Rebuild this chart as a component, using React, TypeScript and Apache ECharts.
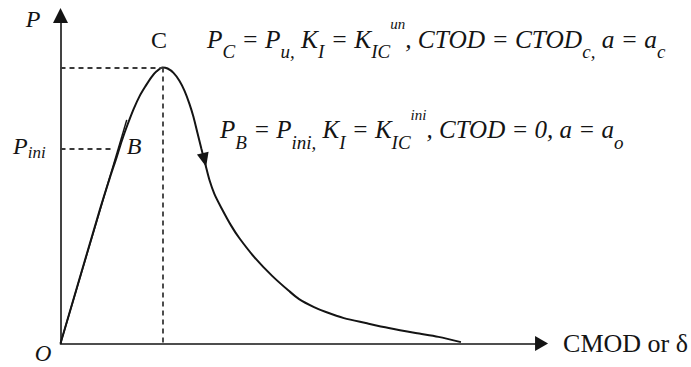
import React, { useEffect, useRef } from 'react';
import * as echarts from 'echarts';

// Normalised schematic data: x = CMOD / CMOD_c, y = P / P_u
const cmod = [0, 0.385, 0.483, 0.551, 0.600, 0.659, 0.717, 0.776, 0.834, 0.893, 0.941, 1.0, 1.049, 1.107, 1.166, 1.215, 1.263, 1.302, 1.341, 1.380, 1.420, 1.459, 1.507, 1.576, 1.673, 1.751, 1.898, 2.073, 2.239, 2.337, 2.483, 2.600, 2.776, 2.990, 3.215, 3.478, 3.702, 3.922];
const load = [0, 0.484, 0.600, 0.676, 0.734, 0.795, 0.850, 0.897, 0.933, 0.966, 0.986, 1.0, 0.996, 0.980, 0.951, 0.915, 0.868, 0.821, 0.763, 0.705, 0.647, 0.592, 0.542, 0.491, 0.426, 0.382, 0.313, 0.245, 0.190, 0.161, 0.132, 0.114, 0.092, 0.074, 0.056, 0.038, 0.024, 0.005];
const tangentX = [0, 0.649];
const tangentY = [0, 0.810];
const peakX = 1.0; // CMOD_c
const peakY = 1.0; // P_u
const pIni = 0.705;
const iniDashEnd = 0.512;
const arrowPoint = [1.41, 0.665];
const xMax = 4.712;
const yMax = 1.188;

const eq1 = '{m|P}{s|C}{m| = P}{s|u,}{m| K}{s|I}{m| = K}{s|IC}{u|un}{m|, CTOD = CTOD}{s|c,}{m| a = a}{s|c}';
const eq2 = '{m|P}{s|B}{m| = P}{s|ini,}{m| K}{s|I}{m| = K}{s|IC}{u|ini}{m|, CTOD = 0, a = a}{s|o}';
const pIniLabel = '{m|P}{s|ini}';

const SERIF = "'Liberation Serif', 'Times New Roman', serif";
const INK = '#141414';

export default function App() {
  const ref = useRef<HTMLDivElement>(null);
  useEffect(() => {
    if (!ref.current) return;
    const chart = echarts.init(ref.current, undefined, { renderer: 'svg' });
    const eqRich1 = {
      m: { fontSize: 25.4, fontStyle: 'italic', fontFamily: 'Liberation Serif', fill: INK, lineHeight: 44, verticalAlign: 'middle' },
      s: { fontSize: 19, fontStyle: 'italic', fontFamily: 'Liberation Serif', fill: INK, lineHeight: 12, verticalAlign: 'bottom' },
      u: { fontSize: 15, fontStyle: 'italic', fontFamily: 'Liberation Serif', fill: INK, lineHeight: 31, verticalAlign: 'top' },
    };
    const eqRich2 = {
      m: { fontSize: 25, fontStyle: 'italic', fontFamily: 'Liberation Serif', fill: INK, lineHeight: 44, verticalAlign: 'middle' },
      s: { fontSize: 19, fontStyle: 'italic', fontFamily: 'Liberation Serif', fill: INK, lineHeight: 12, verticalAlign: 'bottom' },
      u: { fontSize: 15, fontStyle: 'italic', fontFamily: 'Liberation Serif', fill: INK, lineHeight: 29, verticalAlign: 'top' },
    };
    const iniRich = {
      m: { fontSize: 24, fontStyle: 'italic', fontFamily: 'Liberation Serif', fill: INK, lineHeight: 30, verticalAlign: 'middle' },
      s: { fontSize: 17, fontStyle: 'italic', fontFamily: 'Liberation Serif', fill: INK, lineHeight: 13, verticalAlign: 'bottom' },
    };
    const dash = { type: [5, 4] as any, color: '#3a3a3a', width: 1.8 };
    chart.setOption({
      animation: false,
      backgroundColor: '#ffffff',
      grid: { left: 60.5, right: 147.5, top: 15.5, bottom: 23.5 },
      xAxis: {
        type: 'value', min: 0, max: xMax,
        name: 'CMOD or δ', nameLocation: 'end', nameGap: 21.5,
        nameTextStyle: { fontFamily: SERIF, fontSize: 26, color: INK },
        axisLine: { onZero: false, symbol: ['none', 'triangle'], symbolSize: [15, 13], lineStyle: { color: INK, width: 1.6 } },
        axisTick: { show: false }, axisLabel: { show: false }, splitLine: { show: false },
      },
      yAxis: {
        type: 'value', min: 0, max: yMax,
        axisLine: { onZero: false, symbol: ['none', 'triangle'], symbolSize: [15, 15], lineStyle: { color: INK, width: 1.6 } },
        axisTick: { show: false }, axisLabel: { show: false }, splitLine: { show: false },
      },
      series: [
        {
          type: 'line', name: 'tangent', data: tangentX.map((x, i) => [x, tangentY[i]]),
          symbol: 'none', lineStyle: { color: INK, width: 1.5 }, silent: true,
        },
        {
          type: 'line', name: 'P-CMOD', data: cmod.map((x, i) => [x, load[i]]),
          symbol: 'none', smooth: 0.3, lineStyle: { color: INK, width: 2 },
          markLine: {
            silent: true, symbol: 'none', label: { show: false }, lineStyle: dash,
            data: [
              [{ coord: [0, peakY] }, { coord: [peakX, peakY] }],
              [{ coord: [peakX, peakY] }, { coord: [peakX, 0] }],
              [{ coord: [0, pIni] }, { coord: [iniDashEnd, pIni] }],
            ],
          },
          markPoint: {
            silent: true, symbol: 'triangle', symbolSize: [12, 14], symbolRotate: 194,
            itemStyle: { color: INK }, label: { show: false },
            data: [{ coord: arrowPoint }],
          },
        },
      ],
      graphic: [
        { type: 'text', x: 33, y: 19, style: { text: 'P', fontSize: 24, fontStyle: 'italic', fontFamily: SERIF, fill: INK, align: 'center', verticalAlign: 'middle' } },
        { type: 'text', x: 159, y: 40, style: { text: 'C', fontSize: 24, fontFamily: SERIF, fill: INK, align: 'center', verticalAlign: 'middle' } },
        { type: 'text', x: 134, y: 146, style: { text: 'B', fontSize: 24, fontStyle: 'italic', fontFamily: SERIF, fill: INK, align: 'center', verticalAlign: 'middle' } },
        { type: 'text', x: 43, y: 353, style: { text: 'O', fontSize: 23, fontStyle: 'italic', fontFamily: SERIF, fill: INK, align: 'center', verticalAlign: 'middle' } },
        { type: 'text', x: 13, y: 131, style: { text: pIniLabel, rich: iniRich, align: 'left', verticalAlign: 'top' } },
        { type: 'text', x: 207, y: 16.5, style: { text: eq1, rich: eqRich1, align: 'left', verticalAlign: 'top' } },
        { type: 'text', x: 220, y: 107.5, style: { text: eq2, rich: eqRich2, align: 'left', verticalAlign: 'top' } },
      ],
    });
    return () => chart.dispose();
  }, []);
  return <div ref={ref} style={{ position: 'fixed', left: 0, top: 0, width: 691, height: 367 }} />;
}
